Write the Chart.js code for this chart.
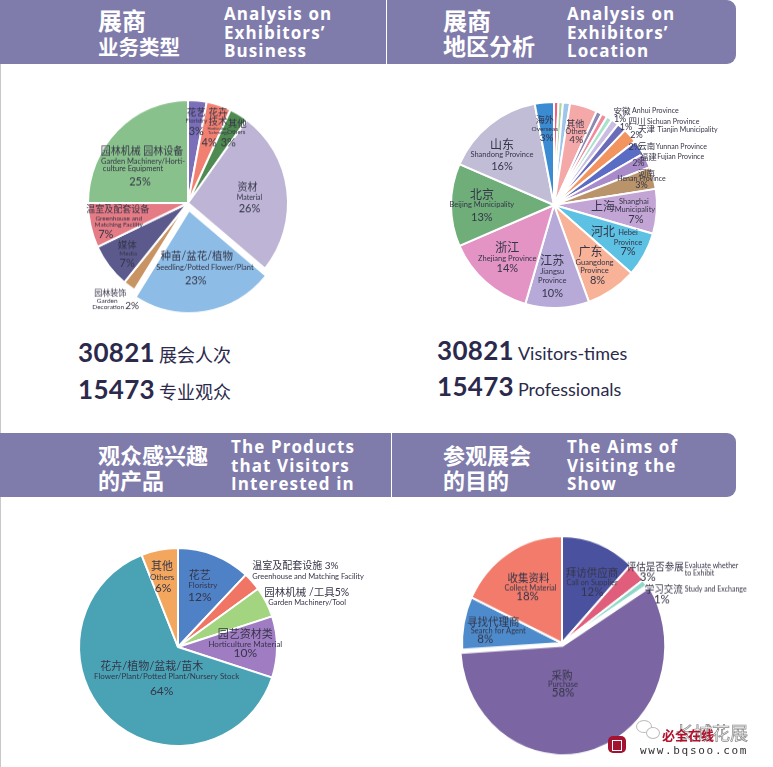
<!DOCTYPE html>
<html>
<head>
<meta charset="utf-8">
<script src="https://cdn.jsdelivr.net/npm/chart.js@4.4.1/dist/chart.umd.min.js"></script>
<style>
body{margin:0;width:773px;height:767px;position:relative;overflow:hidden;background:#fff;font-family:"Lato","Noto Sans CJK SC",sans-serif;}
.edge{position:absolute;left:0;top:0;width:1px;height:767px;background:#c8c8c8;}
.bar{position:absolute;left:0;width:736px;height:64px;background:#7f7bab;border-radius:0 9px 9px 0;}
.split{position:absolute;top:0;width:1px;height:100%;background:#fff;}
.cn{position:absolute;color:#fff;font:bold 22px/25px "Noto Sans CJK SC",sans-serif;white-space:nowrap;}
.cn .big{font-size:24px;}
.en{position:absolute;color:#fff;font:bold 17px/18.5px "Open Sans",sans-serif;letter-spacing:1.1px;white-space:nowrap;}
.stat{position:absolute;color:#2b2a4c;white-space:nowrap;}
.stat b{font:bold 26px "Lato",sans-serif;letter-spacing:0.3px;}
.stat span{font:18px "Lato","Noto Sans CJK SC",sans-serif;margin-left:4px;}
.box{position:absolute;}
</style>
</head>
<body>
<div class="edge"></div>

<div class="bar" style="top:0">
  <div class="split" style="left:386px"></div>
  <div class="cn" style="left:98px;top:7px"><span class="big">展商</span><br><span style="font-size:20.5px">业务类型</span></div>
  <div class="en" style="left:224px;top:5px">Analysis on<br>Exhibitors’<br>Business</div>
  <div class="cn" style="left:443px;top:7px"><span class="big">展商</span><br><span style="font-size:23px">地区分析</span></div>
  <div class="en" style="left:567px;top:5px">Analysis on<br>Exhibitors’<br>Location</div>
</div>

<div class="stat" style="left:78px;top:336px"><b>30821</b><span>展会人次</span></div>
<div class="stat" style="left:78px;top:373px"><b>15473</b><span>专业观众</span></div>
<div class="stat" style="left:437px;top:334px"><b>30821</b><span>Visitors-times</span></div>
<div class="stat" style="left:437px;top:370px"><b>15473</b><span>Professionals</span></div>

<div class="bar" style="top:433px">
  <div class="split" style="left:391px"></div>
  <div class="cn" style="left:98px;top:9px">观众感兴趣<br>的产品</div>
  <div class="en" style="left:231px;top:5px">The Products<br>that Visitors<br>Interested in</div>
  <div class="cn" style="left:443px;top:9px">参观展会<br>的目的</div>
  <div class="en" style="left:567px;top:5px">The Aims of<br>Visiting the<br>Show</div>
</div>

<div class="box" style="left:0;top:63px;width:386px;height:267px;transform:scaleY(1.03);transform-origin:50% 140px"><canvas id="bizChart"></canvas></div>
<div class="box" style="left:386px;top:63px;width:387px;height:267px"><canvas id="locChart"></canvas></div>
<div class="box" style="left:0;top:497px;width:386px;height:270px"><canvas id="prodChart"></canvas></div>
<div class="box" style="left:386px;top:497px;width:387px;height:270px;transform:scaleY(1.07);transform-origin:50% 146px"><canvas id="aimChart"></canvas></div>

<div style="position:absolute;left:636px;top:720px;width:14px;height:11px;border:1px solid #bbb;border-radius:50%"></div>
<div style="position:absolute;left:646px;top:727px;width:12px;height:10px;border:1px solid #bbb;border-radius:50%;background:#fff"></div>
<div style="position:absolute;left:676px;top:721px;font:18px/22px 'Noto Sans CJK SC';color:#fff;-webkit-text-stroke:0.7px #888">长城花展</div>
<div style="position:absolute;left:608px;top:736px;width:18px;height:17px;border-radius:5px;background:#a3122e"></div>
<div style="position:absolute;left:612px;top:740px;width:8px;height:9px;border:1px solid #fff"></div>
<div style="position:absolute;left:662px;top:726px;font:bold 13px/18px 'Noto Sans CJK SC';color:#b3102c">必全在线</div>
<div style="position:absolute;left:640px;top:744px;font:11px/14px 'DejaVu Sans Mono',monospace;letter-spacing:1.7px;color:#333">www.bqsoo.com</div>

<script>
// exhibitors' business
var bizCn = ["花艺", "花卉技术", "其他", "资材", "种苗/盆花/植物", "园林装饰", "媒体", "温室及配套设备", "园林机械 园林设备"];
var bizEn = ["Floristry", "Horticulture Technology", "Others", "Material", "Seedling/Potted Flower/Plant", "Garden Decoration", "Media", "Greenhouse and Matching Facility", "Garden Machinery/Horticulture Equipment"];
var bizPct = [3, 4, 3, 26, 23, 2, 7, 7, 25];

// exhibitors' location (unlabelled thin slices have no name)
var locCn = ["", "", "", "其他", "", "", "", "安徽", "四川", "天津", "云南", "福建", "河南", "上海", "河北", "广东", "江苏", "浙江", "北京", "山东", "海外"];
var locEn = ["", "", "", "Others", "", "", "", "Anhui Province", "Sichuan Province", "Tianjin Municipality", "Yunnan Province", "Fujian Province", "Henan Province", "Shanghai Municipality", "Hebei Province", "Guangdong Province", "Jiangsu Province", "Zhejiang Province", "Beijing Municipality", "Shandong Province", "Overseas"];
var locPct = [0.7, 0.7, 1.1, 4.3, 0.9, 0.9, 0.9, 1.2, 1.4, 2.3, 2.3, 2.3, 3.5, 7, 7, 8, 10, 14, 13, 15.5, 3];

// products visitors are interested in
var prodCn = ["花艺", "温室及配套设施", "园林机械 /工具", "园艺资材类", "花卉/植物/盆栽/苗木", "其他"];
var prodEn = ["Floristry", "Greenhouse and Matching Facility", "Garden Machinery/Tool", "Horticulture Material", "Flower/Plant/Potted Plant/Nursery Stock", "Others"];
var prodPct = [12, 3, 5, 10, 64, 6];

// aims of visiting
var aimCn = ["拜访供应商", "评估是否参展", "学习交流", "采购", "寻找代理商", "收集资料"];
var aimEn = ["Call on Supplier", "Evaluate whether to Exhibit", "Study and Exchange", "Purchase", "Search for Agent", "Collect Material"];
var aimPct = [12, 3, 1, 58, 8, 18];

//colours
var bizColors = ["#7a6fb8", "#f28070", "#4f8b50", "#bdb4d6", "#8dbde6", "#c99463", "#5c5a8d", "#e57b85", "#88c18b"];
var locColors = ["#ef5f86", "#a7d8a1", "#9fc5ea", "#f5a8a8", "#8c88b2", "#f2899c", "#a9e3cc", "#c9bde3", "#6b6cb9", "#f29460", "#5b6cc4", "#a98bc9", "#b9946a", "#c3a5d5", "#5cc1e2", "#f7b297", "#b7aad8", "#e394c5", "#6fae79", "#c1bdd7", "#3b8bd2"];
var prodColors = ["#4f81c7", "#f07565", "#a3d47f", "#a07cc2", "#4aa3b5", "#f2a65e"];
var aimColors = ["#4a52a0", "#e05e7b", "#8ed8c9", "#7b65a3", "#4d8bcc", "#f27b6b"];

// label layouts: f = fraction of radius along slice middle, lines = [text, size, dx, dy, align]
var bizSpots = [
    {f: 0.78, lines: [["花艺", 9.5, 1, -10], ["Floristry", 6, 1, -2], ["3%", 11, 1, 8]]},
    {f: 0.78, lines: [["花卉", 9.5, 6, -14], ["技术", 9.5, 6, -5], ["Horticulture", 4, 6, 2], ["Technology", 4, 6, 6], ["4%", 11, -3, 16]]},
    {f: 0.83, lines: [["其他", 9.5, 7, -6], ["Others", 6, 6, 3], ["3%", 11, -2, 13]]},
    {f: 0.6, lines: [["资材", 10, 0, -8], ["Material", 7, 2, 2], ["26%", 11, 2, 13]]},
    {f: 0.56, lines: [["种苗/盆花/植物", 10.5, -1, -11], ["Seedling/Potted Flower/Plant", 7.5, 7, 0], ["23%", 11, -2, 13]]},
    {f: 1.0, lines: [["园林装饰", 8, -19, 7], ["Garden", 6.5, -22, 14], ["Decoration", 6.5, -21, 20], ["2%", 10, 3, 19]]},
    {f: 0.77, lines: [["媒体", 9.5, 0, -6], ["Media", 6.5, 1, 2], ["7%", 11, 0, 11]]},
    {f: 0.73, lines: [["温室及配套设备", 9, 1, -10], ["Greenhouse and", 6.5, 2, -1], ["Matching Facility", 6.5, 2, 5], ["7%", 11, -11, 15]]},
    {f: 0.58, lines: [["园林机械 园林设备", 10, -5, -9], ["Garden Machinery/Horti-", 7.5, -4, 1], ["culture Equipment", 7.5, -14, 8], ["25%", 11, -7, 20]]}
];

var locSpots = [
    null, null, null,
    {f: 0.75, lines: [["其他", 9, -1, -7], ["Others", 7, 0, 1], ["4%", 10, 0, 9]]},
    null, null, null,
    {f: 1.05, lines: [["安徽", 8.5, 4, -7], ["Anhui Province", 7, 14, -7, "left"], ["1%", 9, 2, 1]]},
    {f: 1.02, lines: [["四川", 8.5, 14, -4], ["Sichuan Province", 7, 24, -4, "left"], ["1%", 9, 3, 1]]},
    {f: 1.03, lines: [["天津", 8.5, 14, -4], ["Tianjin Municipality", 7, 25, -4, "left"], ["2%", 9, 4, 1]]},
    {f: 0.98, lines: [["云南", 8.5, 9, -2], ["Yunnan Province", 7, 18, -2, "left"], ["2%", 9, -3, -1]]},
    {f: 0.92, lines: [["福建", 8.5, 9, -7], ["Fujian Province", 7, 18, -7, "left"], ["2%", 9, -1, -1]]},
    {f: 0.85, lines: [["河南", 8.5, 8, -9], ["Henan Province", 7, 3, -3], ["3%", 9, 3, 3]]},
    {f: 0.7, lines: [["上海", 12, -23, -2], ["Shanghai", 7.5, 8, -8], ["Municipality", 7.5, 9, 0], ["7%", 11, 10, 10]]},
    {f: 0.72, lines: [["河北", 12, -16, -9], ["Hebei", 7.5, 9, -8], ["Province", 7.5, 9, 2], ["7%", 11, 9, 11]]},
    {f: 0.7, lines: [["广东", 12, -4, -13], ["Guangdong", 7.5, 0, -2], ["Province", 7.5, 0, 6], ["8%", 11, 3, 16]]},
    {f: 0.68, lines: [["江苏", 12, -4, -14], ["Jiangsu", 7.5, -4, -3], ["Province", 7.5, -4, 6], ["10%", 11, -4, 18]]},
    {f: 0.7, lines: [["浙江", 12, 1, -11], ["Zhejiang Province", 7.5, 1, -1], ["14%", 11, 1, 9]]},
    {f: 0.7, lines: [["北京", 12, 0, -10], ["Beijing Municipality", 7.5, 0, 0], ["13%", 11, 0, 12]]},
    {f: 0.7, lines: [["山东", 12, -7, -4], ["Shandong Province", 7.5, -7, 6], ["16%", 11, -7, 18]]},
    {f: 0.75, lines: [["海外", 9, -2, -8], ["Overseas", 6.5, -2, 1], ["3%", 10, 0, 10]]}
];

var prodSpots = [
    {f: 0.6, lines: [["花艺", 11, 0, -16], ["Floristry", 8, 3, -6], ["12%", 12, 0, 5]]},
    {f: 1.0, lines: [["温室及配套设施 3%", 10, 0, -16, "left"], ["Greenhouse and Matching Facility", 7.5, 0, -5, "left"]]},
    {f: 1.0, lines: [["园林机械 /工具5%", 10.5, -2, -9, "left"], ["Garden Machinery/Tool", 7.5, 2, 1, "left"]]},
    {f: 0.68, lines: [["园艺资材类", 11, 0, -13], ["Horticulture Material", 8, 0, -3], ["10%", 12, 0, 6]]},
    {f: 0.3, lines: [["花卉/植物/盆栽/苗木", 11, -6, -2], ["Flower/Plant/Potted Plant/Nursery Stock", 8, 9, 8], ["64%", 12, 4, 22]]},
    {f: 0.75, lines: [["其他", 11, -2, -8], ["Others", 8, -2, 3], ["6%", 12, -1, 14]]}
];

var aimSpots = [
    {f: 0.6, lines: [["拜访供应商", 10.5, 8, -10], ["Call on Supplier", 7.5, 8, -1], ["12%", 11.5, 8, 8]]},
    {f: 1.05, lines: [["评估是否参展", 9.5, -14, -2, "left"], ["Evaluate whether", 7, 44, -3, "left"], ["to Exhibit", 7, 44, 4, "left"], ["3%", 11.5, 7, 8]]},
    {f: 1.05, lines: [["学习交流", 9.5, -4, 9, "left"], ["Study and Exchange", 7, 36, 9, "left"], ["1%", 11.5, 13, 18]]},
    {f: 0.3, lines: [["采购", 10.5, -10, 0], ["Purchase", 7.5, -9, 8], ["58%", 11.5, -9, 15]]},
    {f: 0.7, lines: [["寻找代理商", 10.5, 0, -6], ["Search for Agent", 7.5, 5, 2], ["8%", 11.5, -8, 9]]},
    {f: 0.55, lines: [["收集资料", 10.5, -4, -14], ["Collect Material", 7.5, -2, -5], ["18%", 11.5, -5, 3]]}
];

// draws the text of every slice from the arc geometry
function sliceLabels(spots) {
    return {
        id: 'sliceLabels',
        afterDatasetsDraw(chart) {
            var ctx = chart.ctx;
            var arcs = chart.getDatasetMeta(0).data;
            ctx.save();
            ctx.fillStyle = "#353548";
            ctx.textBaseline = "middle";
            arcs.forEach(function(arc, i) {
                var s = spots[i];
                if (!s) return;
                var mid = (arc.startAngle + arc.endAngle) / 2;
                var d = arc.outerRadius * s.f + (arc.options.offset || 0) / 4;
                var ax = arc.x + Math.cos(mid) * d;
                var ay = arc.y + Math.sin(mid) * d;
                s.lines.forEach(function(l) {
                    ctx.font = l[1] + 'px "Lato","Noto Sans CJK SC",sans-serif';
                    ctx.textAlign = l[4] || "center";
                    ctx.fillText(l[0], ax + l[2], ay + l[3]);
                });
            });
            ctx.restore();
        }
    };
}

function pieChart(id, labels, values, colors, offsets, radius, pad, spots) {
    new Chart(id, {
        type: "pie",
        data: {
            labels: labels,
            datasets: [{
                data: values,
                backgroundColor: colors,
                borderColor: "#ffffff",
                borderWidth: 2,
                offset: offsets
            }]
        },
        options: {
            responsive: true,
            maintainAspectRatio: false,
            animation: false,
            radius: radius,
            layout: {padding: pad},
            plugins: {legend: {display: false}, tooltip: {enabled: false}}
        },
        plugins: [sliceLabels(spots)]
    });
}

pieChart("bizChart", bizCn, bizPct, bizColors, [0, 0, 0, 0, 28, 0, 0, 0, 0], 100,
    {left: 0, right: 10, top: 13, bottom: 0}, bizSpots);
pieChart("locChart", locCn, locPct, locColors, 0, 103,
    {left: 0, right: 51, top: 17, bottom: 0}, locSpots);
pieChart("prodChart", prodCn, prodPct, prodColors, 0, 99,
    {left: 0, right: 30, top: 30, bottom: 0}, prodSpots);
pieChart("aimChart", aimCn, aimPct, aimColors, [0, 0, 0, 10, 0, 0], 100,
    {left: 0, right: 35, top: 22, bottom: 0}, aimSpots);
</script>
</body>
</html>
